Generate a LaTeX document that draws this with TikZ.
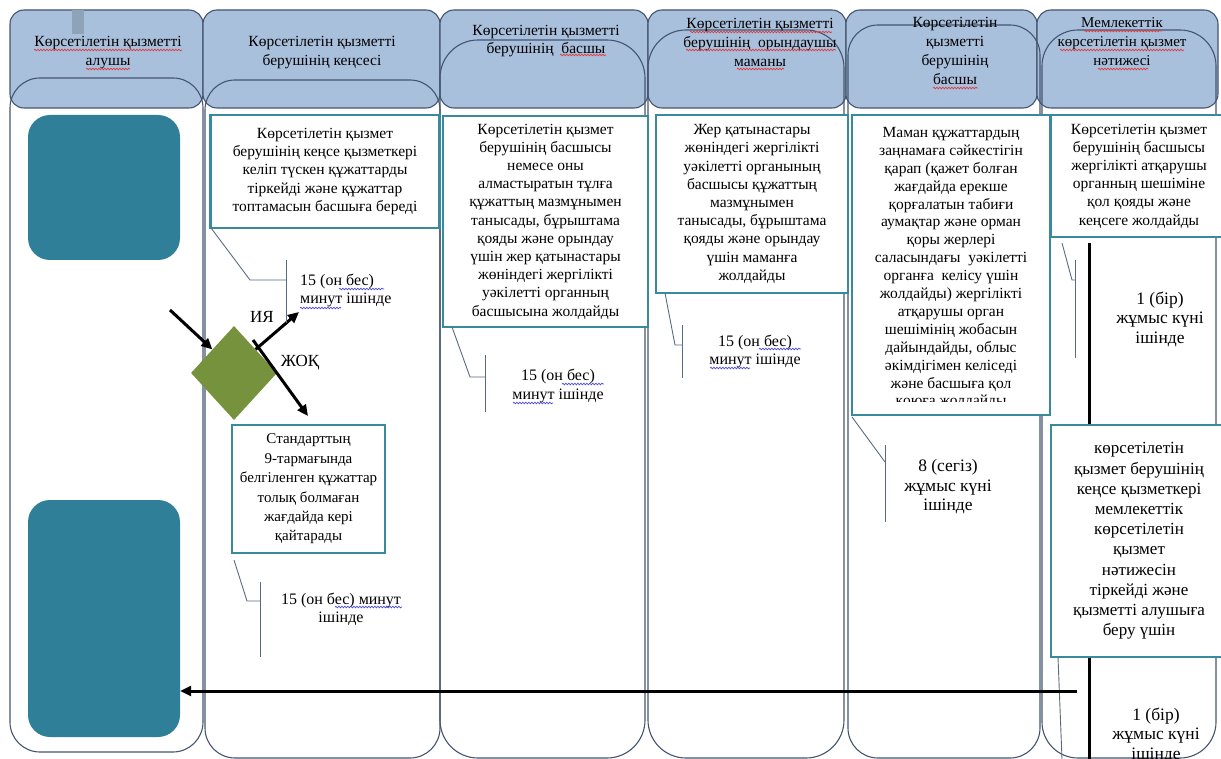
\documentclass[tikz,border=0pt]{standalone}
\usepackage{fontspec}
\setmainfont{Liberation Serif}
\usetikzlibrary{arrows.meta,shapes.geometric,decorations.pathmorphing}
\definecolor{hdr}{HTML}{A9C0DD}
\definecolor{laneC}{HTML}{44556F}
\definecolor{boxC}{HTML}{3A8A9E}
\definecolor{tealF}{HTML}{2F7F98}
\definecolor{diaG}{HTML}{76923C}
\definecolor{barG}{HTML}{8EA2B8}
\definecolor{brkC}{HTML}{5A6A80}
\definecolor{spellR}{HTML}{E03A3A}
\definecolor{spellB}{HTML}{4A4AD8}
\tikzset{
  lane/.style={draw=laneC, line width=1.1pt},
  hdrbox/.style={lane, fill=hdr, rounded corners=14pt},
  lanebody/.style={lane, rounded corners=30pt},
  stepbox/.style={draw=boxC, line width=2.6pt, fill=white, align=center, inner sep=0pt,
    font=\fontsize{15.5}{18.2}\selectfont},
  htext/.style={align=center, inner sep=0pt, font=\fontsize{15.5}{19}\selectfont},
  note/.style={align=center, inner sep=0pt, font=\fontsize{16}{18}\selectfont},
  daynote/.style={align=center, inner sep=0pt, font=\fontsize{17.5}{19.5}\selectfont},
  brk/.style={draw=brkC, line width=0.9pt},
  flow/.style={draw=black, line width=3pt, -{Triangle[length=11pt,width=10pt]}},
  tealbox/.style={fill=tealF, rounded corners=22pt, inner sep=0pt},
  wavyR/.style={draw=spellR, line width=0.7pt, decorate, decoration={snake, amplitude=0.8pt, segment length=3pt}},
  wavyB/.style={draw=spellB, line width=0.7pt, decorate, decoration={snake, amplitude=0.8pt, segment length=3pt}}
}
\begin{document}
\begin{tikzpicture}[x=1pt,y=-1pt]
\useasboundingbox (0,0) rectangle (1221,759);
\clip (0,0) rectangle (1221,759);
% lane headers
\draw[hdrbox] (10,10) rectangle (203,108);
\draw[hdrbox] (203,10) rectangle (440,108);
\draw[hdrbox] (440,10) rectangle (648,108);
\draw[hdrbox] (648,10) rectangle (846,108);
\draw[hdrbox] (846,10) rectangle (1037,108);
\draw[hdrbox] (1037,10) rectangle (1218,108);
% lane bodies
\draw[lanebody] (10,78) rectangle (203,752);
\draw[lanebody] (205,80) rectangle (440,758);
\draw[lanebody, rounded corners=38pt] (440,40) rectangle (645,758);
\draw[lanebody, rounded corners=38pt] (648,30) rectangle (844,758);
\draw[lanebody] (848,25) rectangle (1040,758);
\draw[lanebody, rounded corners=36pt] (1042,30) rectangle (1216,758);
\fill[barG] (72,10) rectangle (84,34);
% header texts
\node[htext] (h1) at (108,52.5) {Көрсетілетін қызметті\\алушы};
\node[htext] (h2) at (322,53) {Көрсетілетін қызметті\\берушінің кеңсесі};
\node[htext, font=\fontsize{15.5}{18}\selectfont] (h3) at (546,41) {Көрсетілетін қызметті\\берушінің\ \ басшы};
\node[htext] (h4) at (760,42) {Көрсетілетін қызметті\\берушінің\ \ орындаушы\\маманы};
\node[htext] (h5) at (955,51) {Көрсетілетін\\қызметті\\берушінің\\басшы};
\node[htext, font=\fontsize{15}{19}\selectfont] (h6) at (1122,42) {Мемлекеттік\\көрсетілетін қызмет\\нәтижесі};
% spell-check underlines in headers
\draw[wavyR] (34,50) -- (182,50);
\draw[wavyR] (86,69) -- (130,69);
\draw[wavyR] (560,55) -- (606,55);
\draw[wavyR] (690,32) -- (832,32);
\draw[wavyR] (686,50) -- (836,50);
\draw[wavyR] (737,69) -- (784,69);
\draw[wavyR] (933,88) -- (978,88);
\draw[wavyR] (1084,31) -- (1162,31);
\draw[wavyR] (1060,50) -- (1184,50);
\draw[wavyR] (1098,69) -- (1148,69);
% lane 1
\node[tealbox, minimum width=152, minimum height=145] (t1) at (104,187.5) {};
\node[tealbox, minimum width=152, minimum height=237] (t2) at (104,618.5) {};
% lane 2
\node[stepbox, minimum width=229, minimum height=113] (k1) at (325,171.5)
  {Көрсетілетін қызмет\\берушінің кеңсе қызметкері\\келіп түскен құжаттарды\\тіркейді және құжаттар\\топтамасын басшыға береді};
\node[diamond, fill=diaG, minimum width=86, minimum height=94, inner sep=0pt] (dia) at (234,373) {};
\node[stepbox, minimum width=153, minimum height=128, font=\fontsize{15}{19.4}\selectfont] (k2) at (308.5,489)
  {Стандарттың\\9-тармағында\\белгіленген құжаттар\\толық болмаған\\жағдайда кері\\қайтарады};
\coordinate (inS) at (170,310);
\draw[flow] (inS) -- (dia.north west);
\coordinate (yesE) at (299,312);
\draw[flow] (dia.north east) -- (yesE);
\coordinate (noS) at (253,340);
\coordinate (noE) at (308,416);
\draw[flow] (noS) -- (noE);
\node[note, font=\fontsize{17}{18}\selectfont] (ya) at (262,317) {ИЯ};
\node[note, font=\fontsize{17}{18}\selectfont] (jok) at (300,363) {ЖОҚ};
\coordinate (b1a) at (211,228);
\coordinate (b1b) at (250,280);
\coordinate (b1c) at (286,280);
\draw[brk] (b1a) -- (b1b) -- (b1c);
\draw[brk] (286,260) -- (286,323);
\node[note, anchor=west, align=left] (a1) at (300,291) {15 (он бес)\\минут ішінде};
\draw[wavyB] (339,289) -- (384,289);
\draw[wavyB] (300,308) -- (341,308);
\coordinate (b2a) at (234,560);
\coordinate (b2b) at (247,601);
\coordinate (b2c) at (260,601);
\draw[brk] (b2a) -- (b2b) -- (b2c);
\draw[brk] (260,582) -- (260,657);
\node[note] (a2) at (341,609) {15 (он бес) минут\\ішінде};
\draw[wavyB] (335,607) -- (402,607);
% lane 3
\node[stepbox, minimum width=205, minimum height=211] (k3) at (545.5,221.5)
  {Көрсетілетін қызмет\\берушінің басшысы\\немесе оны\\алмастыратын тұлға\\құжаттың мазмұнымен\\танысады, бұрыштама\\қояды және орындау\\үшін жер қатынастары\\жөніндегі жергілікті\\уәкілетті органның\\басшысына жолдайды};
\coordinate (b3a) at (452,327);
\coordinate (b3b) at (470,377);
\coordinate (b3c) at (485,377);
\draw[brk] (b3a) -- (b3b) -- (b3c);
\draw[brk] (485,355) -- (485,412);
\node[note] (a3) at (558,386) {15 (он бес)\\минут ішінде};
\draw[wavyB] (562,384) -- (604,384);
\draw[wavyB] (513,403) -- (553,403);
% lane 4
\node[stepbox, minimum width=192, minimum height=178] (k4) at (752,204)
  {Жер қатынастары\\жөніндегі жергілікті\\уәкілетті органының\\басшысы құжаттың\\мазмұнымен\\танысады, бұрыштама\\қояды және орындау\\үшін маманға\\жолдайды};
\coordinate (b4a) at (665,293);
\coordinate (b4b) at (675,345);
\coordinate (b4c) at (682,345);
\draw[brk] (b4a) -- (b4b) -- (b4c);
\draw[brk] (682,325) -- (682,378);
\node[note] (a4) at (755,351) {15 (он бес)\\минут ішінде};
\draw[wavyB] (759,349) -- (801,349);
\draw[wavyB] (710,368) -- (750,368);
% lane 5
\node[stepbox, minimum width=198, minimum height=300] (k5) at (951,265) {};
\begin{scope}
\clip (854,117) rectangle (1048,401);
\node[stepbox, draw=none, fill=none, anchor=north, font=\fontsize{15.5}{17.9}\selectfont] (k5t) at (951,126)
  {Маман құжаттардың\\заңнамаға сәйкестігін\\қарап (қажет болған\\жағдайда ерекше\\қорғалатын табиғи\\аумақтар және орман\\қоры жерлері\\саласындағы\ \ уәкілетті\\органға\ \ келісу үшін\\жолдайды) жергілікті\\атқарушы орган\\шешімінің жобасын\\дайындайды, облыс\\әкімдігімен келіседі\\және басшыға қол\\қоюға жолдайды};
\end{scope}
\coordinate (b5a) at (852,417);
\coordinate (b5b) at (885,462);
\draw[brk] (b5a) -- (b5b);
\draw[brk] (885,445) -- (885,522);
\node[daynote] (a5) at (948,487) {8 (сегіз)\\жұмыс күні\\ішінде};
% lane 6
\node[stepbox, minimum width=176, minimum height=122] (r1) at (1139,176)
  {Көрсетілетін қызмет\\берушінің басшысы\\жергілікті атқарушы\\органның шешіміне\\қол қояды және\\кеңсеге жолдайды};
\node[stepbox, minimum width=176, minimum height=232, font=\fontsize{17}{20.2}\selectfont] (r2) at (1139,541)
  {көрсетілетін\\қызмет берушінің\\кеңсе қызметкері\\мемлекеттік\\көрсетілетін\\қызмет\\нәтижесін\\тіркейді және\\қызметті алушыға\\беру үшін};
\coordinate (b6a) at (1062,243);
\coordinate (b6b) at (1072,280);
\coordinate (b6c) at (1075,280);
\draw[brk] (b6a) -- (b6b) -- (b6c);
\draw[brk] (1075,260) -- (1075,358);
\draw[line width=3pt] (r1.south -| 1089,0) ++(0,5) -- (r2.north -| 1089,0);
\draw[line width=3pt] (r2.south -| 1089,0) -- (1089,759);
\draw[brk] (1058,657) -- (1062,759);
\node[daynote] (a6) at (1160,319) {1 (бір)\\жұмыс күні\\ішінде};
\node[daynote] (a7) at (1156,735) {1 (бір)\\жұмыс күні\\ішінде};
% return arrow
\coordinate (retS) at (1077,691);
\draw[flow] (retS) -- (retS -| t2.east);
\end{tikzpicture}
\end{document}
